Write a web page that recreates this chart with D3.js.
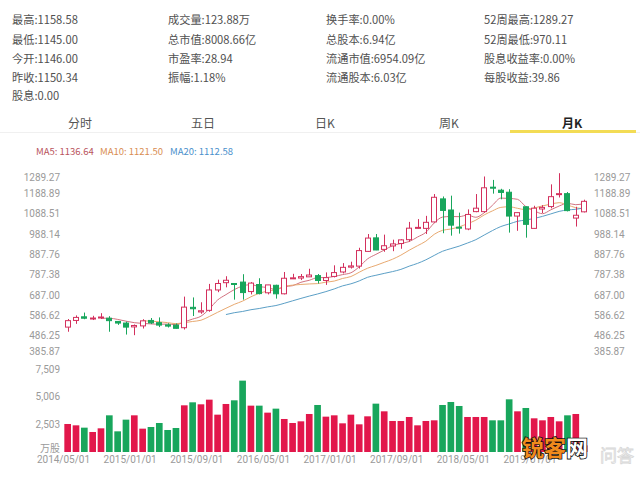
<!DOCTYPE html>
<html>
<head>
<meta charset="utf-8">
<script src="https://cdn.jsdelivr.net/npm/d3@7/dist/d3.min.js"></script>
<style>
html,body{margin:0;padding:0;background:#fff;}
svg{display:block;font-family:"Noto Sans CJK SC","Noto Sans",sans-serif;}
</style>
</head>
<body>
<svg id="chart" width="640" height="479"></svg>
<script>
// ---------- DATA ----------
const months = ["2014/05","2014/06","2014/07","2014/08","2014/09","2014/10","2014/11","2014/12",
"2015/01","2015/02","2015/03","2015/04","2015/05","2015/06","2015/07","2015/08","2015/09","2015/10","2015/11","2015/12",
"2016/01","2016/02","2016/03","2016/04","2016/05","2016/06","2016/07","2016/08","2016/09","2016/10","2016/11","2016/12",
"2017/01","2017/02","2017/03","2017/04","2017/05","2017/06","2017/07","2017/08","2017/09","2017/10","2017/11","2017/12",
"2018/01","2018/02","2018/03","2018/04","2018/05","2018/06","2018/07","2018/08","2018/09","2018/10","2018/11","2018/12",
"2019/01","2019/02","2019/03","2019/04","2019/05","2019/06","2019/07"];
const openP  = [527,560,578,570,572,571,555,547, 528,533,560,549,538,537,524,625,602,610,711,747,
 743,750,703,738,697,734,692,768,770,776,782,758, 778,800,824,829,902,969,912,929,941,960,1017,1016,
 1048,1162,1107,1022,1013,1099,1099,1220,1205,1195,1077,1123, 1016,1112,1124,1185,1188,1067,1098];
const highP  = [567,585,599,583,596,581,557,554, 540,566,572,575,546,545,678,674,650,741,762,779,
 744,789,750,769,736,737,800,791,790,816,790,798, 833,844,851,920,988,988,985,960,962,1048,1062,1078,
 1186,1174,1178,1094,1110,1186,1273,1256,1212,1210,1095,1124, 1128,1131,1234,1289.27,1196,1123,1158];
const lowP   = [504,543,566,562,567,504,538,490, 487,520,542,527,525,520,515,582,593,603,700,724,
 663,663,689,689,689,668,689,765,760,775,743,736, 773,793,817,817,900,908,900,903,915,950,1015,988,
 1045,992,980,990,1007,1096,1093,1188,1160,995,1004,970, 1015,1092,1115,1169,1100,1025,1095];
const closeP = [559,575,571,572,577,559,547,527, 535,558,548,537,532,521,626,618,608,711,743,759,
 742,698,745,693,736,692,769,771,777,785,758,772, 797,823,830,906,968,909,930,939,959,1017,1021,1046,
 1170,1105,1032,1017,1085,1116,1217,1218,1194,1077,1094,1036, 1116,1120,1173,1188,1104,1081,1150];
const volume = [2534,2413,2202,1810,2142,3318,1870,2926, 3318,2112,2262,2624,1991,2172,4223,4495,4314,4736,3378,4344,
 4676,6456,4193,4193,3560,3922,2987,2624,2775,3439,4253,3198, 3318,2594,3378,2504,3228,4374,3680,2806,2806,3168,2413,2806,
 2866,4253,4525,4163,3168,3168,3168,2866,2866,4766,3680,3982, 3047,2866,3168,2775,3318,3439,600];
const priceTicks = [1289.27,1188.89,1088.51,988.14,887.76,787.38,687.00,586.62,486.25,385.87];
const volTicks = [2503,5006,7509];
const xTickMonths = ["2014/05","2015/01","2015/09","2016/05","2017/01","2017/09","2018/05","2019/01"];
const maPeriods = [5,10,20];
const maLegend = ["MA5: 1136.64","MA10: 1121.50","MA20: 1112.58"];
const infoCols = [
 ["最高:1158.58","最低:1145.00","今开:1146.00","昨收:1150.34","股息:0.00"],
 ["成交量:123.88万","总市值:8008.66亿","市盈率:28.94","振幅:1.18%"],
 ["换手率:0.00%","总股本:6.94亿","流通市值:6954.09亿","流通股本:6.03亿"],
 ["52周最高:1289.27","52周最低:970.11","股息收益率:0.00%","每股收益:39.86"]
];
const tabs = ["分时","五日","日K","周K","月K"];

// ---------- STYLE ----------
const RED = "#d3305d", RED_VOL = "#e2174b", GREEN = "#18a65c";
const MA_COLORS = ["#d2727f","#e8a970","#5b9fc6"];
const LEGEND_COLORS = ["#b9545d","#d98d52","#4a90cc"];
const AXIS_COLOR = "#9a9a9a";

const svg = d3.select("#chart");

// info block
const infoX = [12,168,326,484], infoY = [20,40,59,78,96];
infoCols.forEach((col,ci)=>{
  col.forEach((t,ri)=>{
    svg.append("text").attr("x",infoX[ci]).attr("y",infoY[ri]).attr("dy","0.35em")
      .attr("font-size",11.2).attr("fill","#505050").text(t);
  });
});

// tabs
const tabX = [80,203,325,449,572];
svg.append("line").attr("x1",0).attr("x2",640).attr("y1",132.5).attr("y2",132.5)
  .attr("stroke","#f0f0f0").attr("stroke-width",1);
tabs.forEach((t,i)=>{
  svg.append("text").attr("x",tabX[i]).attr("y",124).attr("dy","0.35em")
    .attr("text-anchor","middle").attr("font-size",12)
    .attr("fill", i===4 ? "#222" : "#555").attr("font-weight", i===4 ? "bold":"normal").text(t);
});
svg.append("rect").attr("x",510).attr("y",130).attr("width",126).attr("height",3).attr("fill","#f3dc55");

// legend
const legendX = [36,100,170];
maLegend.forEach((t,i)=>{
  svg.append("text").attr("x",legendX[i]).attr("y",152).attr("dy","0.35em")
    .attr("font-size",9.5).attr("fill",LEGEND_COLORS[i]).text(t);
});

// scales
const x = d3.scaleBand().domain(months).range([63.5,588.3]).padding(0);
const bw = x.bandwidth();
const cx = m => x(m) + bw/2;
const y = d3.scaleLinear().domain([385.87,1289.27]).range([355.6,173.2]);
const vy = d3.scaleLinear().domain([0,7509]).range([452,369]);

const data = months.map((m,i)=>({m, o:openP[i], h:highP[i], l:lowP[i], c:closeP[i], v:volume[i], up: closeP[i] >= openP[i]}));

// price axes
const fmt2 = d3.format(".2f");
function styleAxis(g){
  g.select(".domain").remove();
  g.selectAll("line").remove();
  g.selectAll("text").attr("fill",AXIS_COLOR).attr("font-size",10)
    .attr("font-family","Roboto, 'Noto Sans', sans-serif");
  g.selectAll(".tick text").attr("dy", d => d===1289.27 ? "0.72em" : (d===385.87 ? "-0.08em" : "0.32em"));
}
svg.append("g").attr("transform","translate(60,0)")
  .call(d3.axisLeft(y).tickValues(priceTicks).tickFormat(fmt2).tickSize(0).tickPadding(0))
  .call(styleAxis);
svg.append("g").attr("transform","translate(594,0)")
  .call(d3.axisRight(y).tickValues(priceTicks).tickFormat(fmt2).tickSize(0).tickPadding(0))
  .call(styleAxis);

// volume axis
svg.append("g").attr("transform","translate(60,0)")
  .call(d3.axisLeft(vy).tickValues(volTicks).tickFormat(d3.format(",")).tickSize(0).tickPadding(0))
  .call(g=>{ g.select(".domain").remove();
    g.selectAll("text").attr("fill",AXIS_COLOR).attr("font-size",10)
      .attr("font-family","Roboto, 'Noto Sans', sans-serif"); });
svg.append("text").attr("x",60).attr("y",448).attr("dy","0.35em").attr("text-anchor","end")
  .attr("font-size",10).attr("fill",AXIS_COLOR).text("万股");

// volume bars
const vbw = bw*0.8;
svg.append("g").selectAll("rect").data(data).join("rect")
  .attr("x", d=>cx(d.m)-vbw/2).attr("width",vbw)
  .attr("y", d=>vy(d.v)).attr("height", d=>vy(0)-vy(d.v))
  .attr("fill", d=> d.up ? RED_VOL : GREEN);

// x axis labels
const xg = svg.append("g").attr("transform","translate(0,456)")
  .call(d3.axisBottom(x).tickValues(xTickMonths).tickFormat(m=>m+"/01").tickSize(0).tickPadding(0));
xg.select(".domain").remove();
xg.selectAll(".tick").attr("transform", m=>`translate(${x(m)},0)`);
xg.selectAll("text").attr("fill",AXIS_COLOR).attr("font-size",10).attr("dy","0.71em")
  .attr("font-family","Roboto, 'Noto Sans', sans-serif");

// MA lines
maPeriods.forEach((p,k)=>{
  const pts = data.map((d,i)=> i>=p-1 ? {m:d.m, v:d3.mean(closeP.slice(i-p+1,i+1))} : null).filter(Boolean);
  svg.append("path").datum(pts)
    .attr("fill","none").attr("stroke",MA_COLORS[k]).attr("stroke-width",1)
    .attr("d", d3.line().x(d=>cx(d.m)).y(d=>y(d.v)).curve(d3.curveMonotoneX));
});

// candles
const cw = bw*0.72;
const cg = svg.append("g").selectAll("g").data(data).join("g");
cg.append("line")
  .attr("x1", d=>Math.round(cx(d.m))+0.5).attr("x2", d=>Math.round(cx(d.m))+0.5)
  .attr("y1", d=>y(d.h)).attr("y2", d=>y(d.l))
  .attr("stroke", d=> d.up ? RED : GREEN).attr("stroke-width",1);
cg.append("rect")
  .attr("x", d=>Math.round(cx(d.m)-cw/2)+0.5).attr("width", Math.round(cw)-1)
  .attr("y", d=>y(Math.max(d.o,d.c))).attr("height", d=>Math.max(1, Math.abs(y(d.o)-y(d.c))))
  .attr("fill", d=> d.up ? "#fff" : GREEN)
  .attr("stroke", d=> d.up ? RED : GREEN).attr("stroke-width",1);

// watermark
svg.append("text").attr("x",634).attr("y",462).attr("text-anchor","end")
  .attr("font-size",17).attr("fill","#fafafa").attr("stroke","#d8d8d8").attr("stroke-width",0.8)
  .text("问答");
const wm = svg.append("text").attr("x",522).attr("y",456).attr("font-size",22).attr("font-weight","bold")
  .attr("stroke","#111").attr("stroke-width",1.6).attr("paint-order","stroke");
wm.append("tspan").attr("fill","#f08a1c").text("锐客");
wm.append("tspan").attr("fill","#fff").text("网");
</script>
</body>
</html>
